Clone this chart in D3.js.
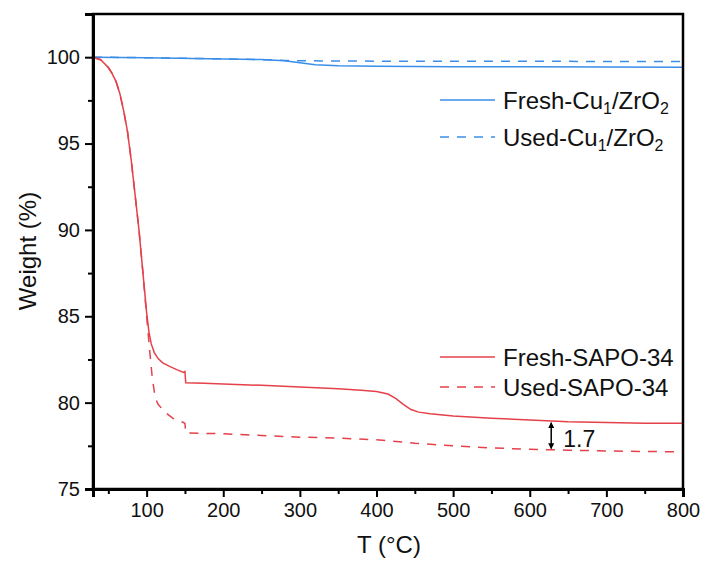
<!DOCTYPE html>
<html>
<head>
<meta charset="utf-8">
<script src="https://cdn.jsdelivr.net/npm/d3@7"></script>
<style>
  body { margin: 0; background: #fff; }
  svg text { font-family: "Liberation Sans", Arial, sans-serif; fill: #111; }
</style>
</head>
<body>
<svg id="stage" width="705" height="571"></svg>
<script>
// TGA curves: [T (°C), weight (%)]
const freshCu = [[30, 100], [100, 99.97], [200, 99.9], [250, 99.86], [280, 99.8], [300, 99.68], [320, 99.56], [350, 99.5], [400, 99.47], [500, 99.45], [600, 99.44], [800, 99.42]];
const usedCu = [[30, 100], [100, 99.97], [200, 99.9], [250, 99.86], [280, 99.81], [300, 99.79], [400, 99.77], [600, 99.76], [800, 99.75]];
const freshSapo = [[30, 100], [40, 99.85], [50, 99.4], [55, 99.05], [60, 98.6], [65, 97.9], [70, 96.9], [75, 95.7], [80, 94.0], [85, 92.0], [90, 90.0], [95, 87.6], [100, 85.2], [103, 84.1], [106, 83.4], [110, 82.9], [115, 82.55], [121, 82.3], [130, 82.1], [140, 81.9], [148, 81.75], [150, 81.8], [151, 81.15], [175, 81.12], [200, 81.08], [250, 81.0], [300, 80.9], [350, 80.8], [380, 80.72], [400, 80.65], [415, 80.5], [425, 80.25], [435, 79.9], [445, 79.6], [455, 79.45], [470, 79.35], [500, 79.22], [550, 79.1], [600, 79.0], [650, 78.9], [700, 78.85], [750, 78.8], [800, 78.8]];
const usedSapo = [[30, 100], [40, 99.85], [50, 99.4], [55, 99.05], [60, 98.6], [65, 97.9], [70, 96.9], [75, 95.7], [80, 94.0], [85, 92.0], [90, 90.0], [95, 87.6], [100, 85.0], [104, 83.0], [107, 81.6], [111, 80.3], [115, 79.9], [124, 79.45], [134, 79.1], [148, 78.85], [150, 78.8], [151, 78.25], [175, 78.22], [200, 78.2], [250, 78.1], [300, 78.0], [350, 77.95], [400, 77.85], [450, 77.65], [500, 77.5], [550, 77.38], [600, 77.3], [650, 77.25], [700, 77.2], [800, 77.15]];

const xTicks = [100, 200, 300, 400, 500, 600, 700, 800];
const xMinor = [50, 150, 250, 350, 450, 550, 650, 750];
const yTicks = [75, 80, 85, 90, 95, 100];
const yMinor = [77.5, 82.5, 87.5, 92.5, 97.5];

// difference marker at T = 628
const gap = { t: 628, top: 78.9, bottom: 77.28, label: "1.7" };

const blue = "#3a8ee8";
const red = "#e4414a";

const series = [
  { name: "Fresh-Cu", sub1: "1", mid: "/ZrO", sub2: "2", data: freshCu, color: blue, dash: null },
  { name: "Used-Cu", sub1: "1", mid: "/ZrO", sub2: "2", data: usedCu, color: blue, dash: "9,8" },
  { name: "Fresh-SAPO-34", data: freshSapo, color: red, dash: null },
  { name: "Used-SAPO-34", data: usedSapo, color: red, dash: "9,8" },
];

const svg = d3.select("#stage");
const plotL = 93, plotR = 683, plotT = 14, plotB = 489;

const x = d3.scaleLinear().domain([30, 800]).range([plotL, plotR]);
const y = d3.scaleLinear().domain([75, 102.5]).range([plotB, plotT]);

const line = d3.line().x((d) => x(d[0])).y((d) => y(d[1]));

// curves
svg.append("g")
  .selectAll("path")
  .data(series)
  .enter()
  .append("path")
  .attr("d", (d) => line(d.data))
  .attr("fill", "none")
  .attr("stroke", (d) => d.color)
  .attr("stroke-width", 1.5)
  .attr("stroke-dasharray", (d) => d.dash);

// frame
svg.append("rect")
  .attr("x", plotL).attr("y", plotT)
  .attr("width", plotR - plotL).attr("height", plotB - plotT)
  .attr("fill", "none").attr("stroke", "#000").attr("stroke-width", 2.5);

// axes
const xAxis = svg.append("g")
  .attr("transform", `translate(0,${plotB})`)
  .call(d3.axisBottom(x).tickValues(xTicks).tickSize(8).tickPadding(6));
const xAxisMinor = svg.append("g")
  .attr("transform", `translate(0,${plotB})`)
  .call(d3.axisBottom(x).tickValues(xMinor).tickSize(5).tickFormat(""));
const yAxis = svg.append("g")
  .attr("transform", `translate(${plotL},0)`)
  .call(d3.axisLeft(y).tickValues(yTicks).tickSize(8).tickPadding(5));
const yAxisMinor = svg.append("g")
  .attr("transform", `translate(${plotL},0)`)
  .call(d3.axisLeft(y).tickValues(yMinor).tickSize(5).tickFormat(""));

[xAxis, xAxisMinor, yAxis, yAxisMinor].forEach((g) => {
  g.select(".domain").attr("stroke-width", 3).attr("stroke", "#000");
  g.selectAll(".tick line").attr("stroke-width", 2).attr("stroke", "#000");
  g.selectAll(".tick text")
    .style("font-family", '"Liberation Sans", Arial, sans-serif')
    .style("font-size", "20px")
    .attr("fill", "#111");
});

// axis titles
svg.append("text")
  .attr("x", 389).attr("y", 553)
  .attr("text-anchor", "middle")
  .style("font-size", "24px")
  .text("T (°C)");
svg.append("text")
  .attr("transform", "translate(36,251) rotate(-90)")
  .attr("text-anchor", "middle")
  .style("font-size", "24px")
  .text("Weight (%)");

// legends
const legendRows = [
  { s: series[0], ly: 100 },
  { s: series[1], ly: 137 },
  { s: series[2], ly: 357 },
  { s: series[3], ly: 387 },
];
const legend = svg.append("g")
  .selectAll("g")
  .data(legendRows)
  .enter()
  .append("g")
  .attr("transform", (d) => `translate(440,${d.ly})`);
legend.append("line")
  .attr("x1", 0).attr("x2", 55)
  .attr("stroke", (d) => d.s.color)
  .attr("stroke-width", 1.5)
  .attr("stroke-dasharray", (d) => d.s.dash);
const lt = legend.append("text")
  .attr("x", 63).attr("y", 8.5)
  .style("font-size", "24px");
lt.append("tspan").text((d) => d.s.name);
lt.filter((d) => d.s.sub1).each(function (d) {
  const t = d3.select(this);
  t.append("tspan").attr("dy", 5).style("font-size", "16px").text(d.s.sub1);
  t.append("tspan").attr("dy", -5).text(d.s.mid);
  t.append("tspan").attr("dy", 5).style("font-size", "16px").text(d.s.sub2);
});

// double-headed arrow showing the 1.7 % gap
const defs = svg.append("defs");
defs.append("marker")
  .attr("id", "ah")
  .attr("viewBox", "0 0 10 10")
  .attr("refX", 9).attr("refY", 5)
  .attr("markerWidth", 4).attr("markerHeight", 4)
  .attr("orient", "auto-start-reverse")
  .append("path").attr("d", "M0,0 L10,5 L0,10 z").attr("fill", "#000");

svg.append("line")
  .attr("x1", x(gap.t)).attr("x2", x(gap.t))
  .attr("y1", y(gap.top) + 1).attr("y2", y(gap.bottom) - 1)
  .attr("stroke", "#000").attr("stroke-width", 1.5)
  .attr("marker-start", "url(#ah)")
  .attr("marker-end", "url(#ah)");
svg.append("text")
  .attr("x", x(gap.t) + 12).attr("y", y(gap.bottom) - 3)
  .style("font-size", "23px")
  .text(gap.label);
</script>
</body>
</html>
